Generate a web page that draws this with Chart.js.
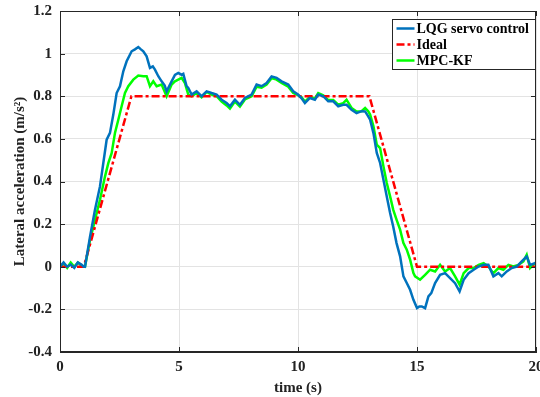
<!DOCTYPE html>
<html>
<head>
<meta charset="utf-8">
<script src="https://cdn.jsdelivr.net/npm/chart.js@4/dist/chart.umd.min.js"></script>
<style>
  html, body { margin: 0; padding: 0; background: #fff; }
  #wrap { width: 540px; height: 397px; position: relative; }
</style>
</head>
<body>
<div id="wrap"><canvas id="c" width="540" height="397"></canvas></div>
<script>
// Lateral acceleration responses

const xTicks = [0, 5, 10, 15, 20];
const yTicks = [1.2, 1, 0.8, 0.6, 0.4, 0.2, 0, -0.2, -0.4];

const tIdeal = [0, 1, 3, 13, 15, 20];
const ideal  = [0, 0, 0.8, 0.8, 0, 0];

const tLqg = [0, 0.15, 0.3, 0.45, 0.6, 0.75, 0.9, 1.0, 1.05, 1.26, 1.47, 1.68, 1.82, 1.96, 2.1, 2.24,
  2.38, 2.52, 2.66, 2.8, 3.01, 3.15, 3.29, 3.4, 3.5, 3.64, 3.78, 3.9, 3.99, 4.13, 4.27, 4.4, 4.48,
  4.6, 4.69, 4.83, 4.97, 5.11, 5.18, 5.32, 5.39, 5.53, 5.74, 5.95, 6.16, 6.37, 6.58, 6.79, 7.0,
  7.14, 7.35, 7.56, 7.77, 8.05, 8.26, 8.47, 8.68, 8.89, 9.1, 9.31, 9.59, 9.8, 10.0, 10.15, 10.29,
  10.5, 10.71, 10.85, 11.06, 11.27, 11.48, 11.69, 11.9, 12.04, 12.25, 12.46, 12.67, 12.82, 12.95,
  13.03, 13.17, 13.31, 13.45, 13.59, 13.73, 13.87, 14.0, 14.14, 14.29, 14.43, 14.57, 14.71, 14.85,
  15.0, 15.1, 15.2, 15.34, 15.48, 15.6, 15.76, 15.97, 16.18, 16.39, 16.6, 16.79, 16.96, 17.17,
  17.38, 17.59, 17.8, 18.0, 18.21, 18.42, 18.56, 18.77, 18.98, 19.19, 19.4, 19.61, 19.75, 19.96, 20];
const lqg = [0, 0.02, 0, 0.01, -0.005, 0.02, 0.01, 0, 0, 0.14, 0.267, 0.377, 0.487, 0.596, 0.628, 0.714,
  0.815, 0.847, 0.917, 0.964, 1.011, 1.02, 1.031, 1.02, 1.011, 0.987, 0.933, 0.94, 0.925, 0.894, 0.87, 0.85, 0.823,
  0.85, 0.87, 0.9, 0.909, 0.901, 0.905, 0.847, 0.839, 0.808, 0.823, 0.8, 0.823, 0.815, 0.808, 0.784, 0.768,
  0.753, 0.784, 0.76, 0.792, 0.808, 0.855, 0.847, 0.862, 0.893, 0.886, 0.87, 0.855, 0.823, 0.808, 0.79, 0.768,
  0.792, 0.784, 0.808, 0.8, 0.776, 0.776, 0.753, 0.76, 0.76, 0.737, 0.721, 0.73, 0.729, 0.706,
  0.69, 0.627, 0.534, 0.487, 0.408, 0.33, 0.252, 0.189, 0.111, 0.049, -0.045, -0.076, -0.108, -0.155,
  -0.194, -0.186, -0.186, -0.194, -0.139, -0.124, -0.077, -0.038, -0.03, -0.053, -0.077, -0.116, -0.061, -0.03,
  -0.014, 0.001, 0.009, 0.009, -0.045, -0.03, -0.045, -0.022, -0.006, 0.001, 0.025, 0.048, 0.009, 0.017, 0.02];

const tMpc = [0, 0.15, 0.3, 0.45, 0.6, 0.75, 0.9, 1.05, 1.26, 1.47, 1.68, 1.89, 2.03, 2.17, 2.31, 2.45,
  2.59, 2.73, 2.87, 3.08, 3.29, 3.5, 3.64, 3.78, 3.92, 4.06, 4.27, 4.48, 4.69, 4.83, 4.97, 5.11, 5.25,
  5.39, 5.53, 5.74, 5.95, 6.16, 6.37, 6.58, 6.79, 7.0, 7.14, 7.35, 7.56, 7.77, 8.05, 8.26, 8.47, 8.68,
  8.89, 9.1, 9.31, 9.59, 9.8, 10.0, 10.15, 10.29, 10.5, 10.71, 10.85, 11.06, 11.27, 11.48, 11.69, 11.9,
  12.04, 12.25, 12.46, 12.67, 12.82, 12.95, 13.03, 13.17, 13.31, 13.45, 13.59, 13.73, 13.87, 14.0, 14.14,
  14.29, 14.43, 14.57, 14.71, 14.85, 14.92, 15.13, 15.34, 15.55, 15.76, 15.97, 16.18, 16.39, 16.6, 16.79,
  16.96, 17.17, 17.38, 17.59, 17.8, 18.0, 18.21, 18.42, 18.63, 18.84, 19.05, 19.26, 19.47, 19.61, 19.75, 19.96, 20];
const mpc = [0, 0.015, -0.005, 0.02, 0, 0.02, 0.005, 0, 0.125, 0.22, 0.314, 0.423, 0.486, 0.533, 0.628, 0.69,
  0.753, 0.815, 0.847, 0.878, 0.897, 0.894, 0.894, 0.847, 0.87, 0.847, 0.855, 0.8, 0.855, 0.87, 0.878, 0.886, 0.862,
  0.808, 0.8, 0.815, 0.795, 0.82, 0.808, 0.8, 0.775, 0.757, 0.742, 0.775, 0.752, 0.785, 0.8, 0.845, 0.84, 0.855,
  0.885, 0.878, 0.862, 0.845, 0.815, 0.805, 0.795, 0.775, 0.797, 0.79, 0.815, 0.805, 0.782, 0.782, 0.76, 0.768,
  0.784, 0.745, 0.728, 0.73, 0.745, 0.73, 0.714, 0.659, 0.573, 0.557, 0.471, 0.393, 0.33, 0.268, 0.221,
  0.174, 0.111, 0.08, 0.033, -0.03, -0.045, -0.061, -0.038, -0.014, -0.022, 0.009, -0.022, -0.006, -0.045, -0.084,
  -0.03, -0.006, -0.006, 0.009, 0.017, 0.001, -0.03, -0.006, -0.014, 0.009, 0.001, 0.009, 0.025, 0.056, -0.006, 0.017, 0.02];

const toPts = (ts, vs) => ts.map((t, i) => ({ x: t, y: vs[i] }));

const FONT = '"Liberation Serif", "Times New Roman", serif';
const AXIS = '#262626';

// no auto padding for edge tick labels, MATLAB clips them instead
function noEdgePad(s) {
  s.paddingLeft = 0; s.paddingRight = 0; s.paddingTop = 0; s.paddingBottom = 0;
}

// MATLAB-style box with inward ticks + legend box
const matlabBox = {
  id: 'matlabBox',
  afterDraw(chart) {
    const { ctx, chartArea: a, scales } = chart;
    const L = 5;
    ctx.save();
    ctx.strokeStyle = AXIS;
    ctx.lineWidth = 1;
    ctx.strokeRect(a.left + 0.5, a.top + 0.5, a.right - a.left - 1, a.bottom - a.top - 1);
    ctx.beginPath();
    xTicks.forEach(v => {
      const x = Math.round(scales.x.getPixelForValue(v)) + 0.5;
      ctx.moveTo(x, a.bottom); ctx.lineTo(x, a.bottom - L);
      ctx.moveTo(x, a.top); ctx.lineTo(x, a.top + L);
    });
    yTicks.forEach(v => {
      const y = Math.round(scales.y.getPixelForValue(v)) + 0.5;
      ctx.moveTo(a.left, y); ctx.lineTo(a.left + L, y);
      ctx.moveTo(a.right, y); ctx.lineTo(a.right - L, y);
    });
    ctx.stroke();

    // legend
    const bx = 392.5, by = 19.5, bw = 143, bh = 50;
    ctx.fillStyle = '#fff';
    ctx.fillRect(bx, by, bw, bh);
    ctx.strokeStyle = AXIS;
    ctx.strokeRect(bx, by, bw, bh);
    ctx.font = 'bold 14px ' + FONT;
    ctx.textBaseline = 'middle';
    ctx.textAlign = 'left';
    chart.data.datasets.forEach((ds, i) => {
      const y = by + 9 + i * 16;
      ctx.beginPath();
      ctx.strokeStyle = ds.borderColor;
      ctx.lineWidth = ds.borderWidth;
      ctx.setLineDash(ds.borderDash || []);
      ctx.moveTo(bx + 4, y); ctx.lineTo(bx + 22, y);
      ctx.stroke();
      ctx.setLineDash([]);
      ctx.fillStyle = '#000';
      ctx.fillText(ds.label, bx + 24, y + 1);
    });
    ctx.restore();
  }
};

new Chart(document.getElementById('c'), {
  type: 'scatter',
  data: {
    datasets: [
      { label: 'LQG servo control', data: toPts(tLqg, lqg), showLine: true,
        borderColor: '#0072BD', borderWidth: 2.5, pointRadius: 0, tension: 0 },
      { label: 'Ideal', data: toPts(tIdeal, ideal), showLine: true,
        borderColor: '#FF0000', borderWidth: 2.5, borderDash: [8, 3, 3, 3], pointRadius: 0 },
      { label: 'MPC-KF', data: toPts(tMpc, mpc), showLine: true,
        borderColor: '#00FF00', borderWidth: 2.5, pointRadius: 0, tension: 0 }
    ]
  },
  options: {
    responsive: false,
    animation: false,
    layout: { padding: { top: 11, right: 4, left: 0, bottom: 0 } },
    plugins: { legend: { display: false }, tooltip: { enabled: false } },
    scales: {
      x: {
        type: 'linear', min: 0, max: 20,
        afterBuildTicks: s => { s.ticks = xTicks.map(v => ({ value: v })); },
        afterFit: s => { s.height = 45; noEdgePad(s); },
        grid: { color: '#e3e3e3', drawTicks: false },
        border: { color: AXIS },
        ticks: { color: '#222', font: { family: FONT, size: 15, weight: 'bold' }, padding: 6, maxRotation: 0 },
        title: { display: true, text: 'time (s)', color: '#222',
          font: { family: FONT, size: 15, weight: 'bold' }, padding: { top: 0, bottom: 0 } }
      },
      y: {
        type: 'linear', min: -0.4, max: 1.2,
        afterBuildTicks: s => { s.ticks = yTicks.map(v => ({ value: v })); },
        afterFit: s => { s.width = 60; noEdgePad(s); },
        grid: { color: '#e3e3e3', drawTicks: false },
        border: { color: AXIS },
        ticks: { color: '#222', font: { family: FONT, size: 15, weight: 'bold' }, padding: 8,
          callback: v => String(Math.round(v * 10) / 10) },
        title: { display: true, text: 'Lateral acceleration (m/s\u00B2)', color: '#222',
          font: { family: FONT, size: 15, weight: 'bold' }, padding: { top: 11, bottom: 0 } }
      }
    }
  },
  plugins: [matlabBox]
});
</script>
</body>
</html>
